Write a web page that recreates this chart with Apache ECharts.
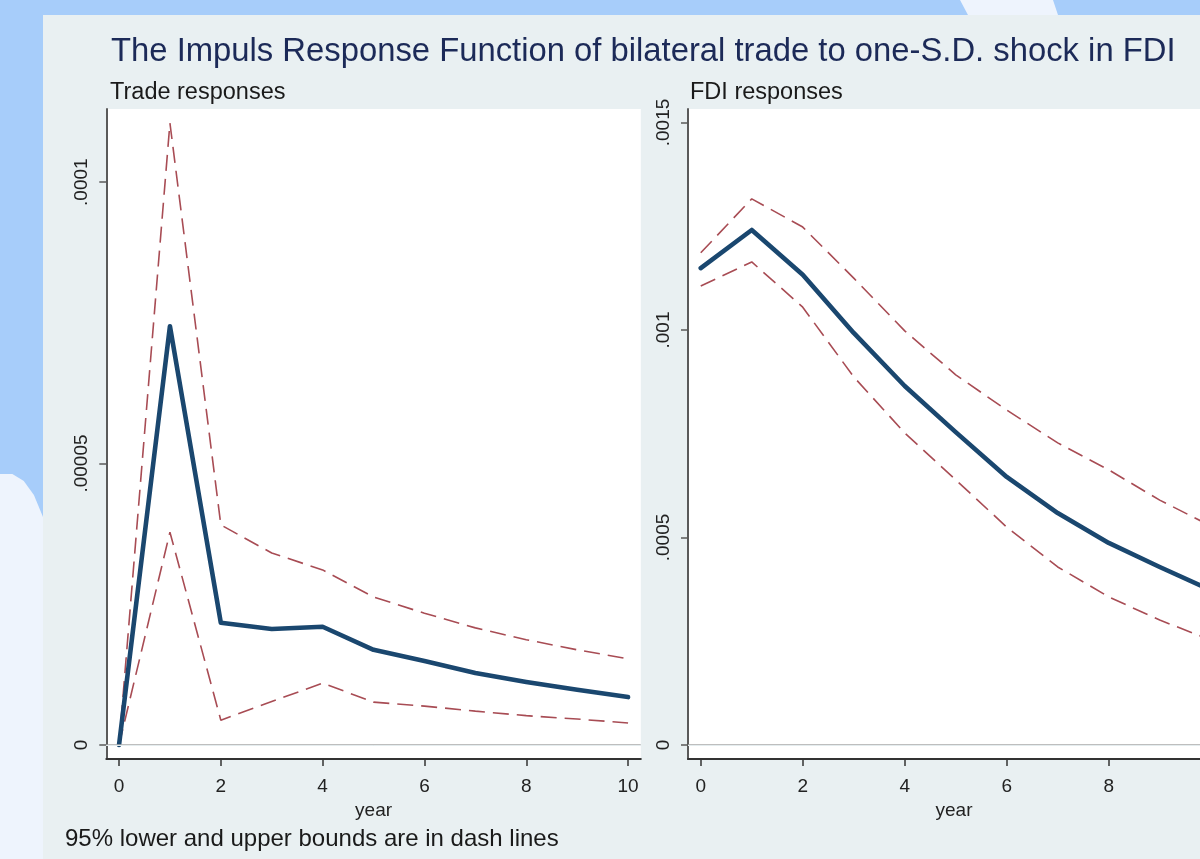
<!DOCTYPE html>
<html><head><meta charset="utf-8">
<script src="https://cdn.jsdelivr.net/npm/echarts@6/dist/echarts.min.js"></script>
<style>html,body{margin:0;padding:0;background:#a7cdfa;overflow:hidden;} #c{width:1200px;height:859px;}</style>
</head><body><div id="c"></div>
<script>
// ---- data ----
const years = [0, 1, 2, 3, 4, 5, 6, 7, 8, 9, 10];
const tradeIRF   = [0, 0.0000744, 0.0000217, 0.0000206, 0.0000210, 0.0000169, 0.0000149, 0.0000128, 0.0000112, 0.0000098, 0.0000085];
const tradeUpper = [0, 0.0001105, 0.0000391, 0.0000341, 0.0000311, 0.0000263, 0.0000234, 0.0000208, 0.0000187, 0.0000169, 0.0000153];
const tradeLower = [0, 0.0000378, 0.0000044, 0.0000077, 0.0000110, 0.0000076, 0.0000069, 0.0000060, 0.0000052, 0.0000046, 0.0000039];
const fdiIRF   = [0.001149, 0.001241, 0.001133, 0.000993, 0.000865, 0.000754, 0.000646, 0.000559, 0.000487, 0.000429, 0.000373];
const fdiUpper = [0.001186, 0.001316, 0.001248, 0.001125, 0.000998, 0.000892, 0.000807, 0.000728, 0.000663, 0.000590, 0.000528];
const fdiLower = [0.001106, 0.001164, 0.001055, 0.000887, 0.000752, 0.000639, 0.000525, 0.000429, 0.000357, 0.000301, 0.000253];
const xTicks = [0, 2, 4, 6, 8, 10];
const tradeTicks = [0, 0.00005, 0.0001];
const tradeTickLabels = ['0', '.00005', '.0001'];
const fdiTicks = [0, 0.0005, 0.001, 0.0015];
const fdiTickLabels = ['0', '.0005', '.001', '.0015'];

const mainTitle = 'The Impuls Response Function of bilateral trade to one-S.D. shock in FDI';
const panelTitles = ['Trade responses', 'FDI responses'];
const noteText = '95% lower and upper bounds are in dash lines';

// ---- styles ----
const FONT = 'Liberation Sans, Arial, sans-serif';
const NAVY = '#1a476f';
const MAROON = '#a84c54';
const pairs = arr => years.map((y, i) => [y, arr[i]]);
const lookup = (ticks, labels) => v => {
  for (let i = 0; i < ticks.length; i++) if (Math.abs(ticks[i] - v) < 1e-12) return labels[i];
  return '';
};

const chart = echarts.init(document.getElementById('c'), null, {renderer: 'canvas'});

function xAxisFor(i, max, namePad) {
  return {
    type: 'value', gridIndex: i, min: -0.25, max: max,
    axisLine: {show: true, onZero: false, lineStyle: {color: '#333', width: 2}},
    axisTick: {show: true, length: 7, customValues: xTicks, lineStyle: {color: '#333', width: 1.5}},
    axisLabel: {customValues: xTicks, margin: 18, fontSize: 19, color: '#222', fontFamily: FONT},
    splitLine: {show: false},
    name: 'year', nameLocation: 'middle', nameGap: 37,
    nameTextStyle: {fontSize: 19, color: '#222', fontFamily: FONT, padding: [0, 0, 0, namePad]}
  };
}
function yAxisFor(i, min, max, ticks, labels) {
  return {
    type: 'value', gridIndex: i, min: min, max: max,
    axisLine: {show: true, onZero: false, lineStyle: {color: '#5a5a5a', width: 2}},
    axisTick: {show: true, length: 7, customValues: ticks, lineStyle: {color: '#5a5a5a', width: 1.5}},
    axisLabel: {customValues: ticks, rotate: 90, margin: 15, fontSize: 19, color: '#222', fontFamily: FONT,
      formatter: lookup(ticks, labels)},
    splitLine: {show: false}
  };
}
function gridLines(i, ticks, base) {
  return {
    type: 'line', xAxisIndex: i, yAxisIndex: i, data: pairs(base), symbol: 'none',
    lineStyle: {opacity: 0}, silent: true, z: 1,
    markLine: {
      silent: true, symbol: ['none', 'none'], label: {show: false}, animation: false,
      data: ticks.map(v => ({yAxis: v, lineStyle: {color: v === 0 ? '#a8a8a8' : '#e4ecee', width: v === 0 ? 1.5 : 1, type: 'solid'}}))
    }
  };
}
function band(i, arr) {
  return {type: 'line', xAxisIndex: i, yAxisIndex: i, data: pairs(arr), symbol: 'none', silent: true, z: 3,
    lineStyle: {color: MAROON, width: 1.6, type: [16, 8]}};
}
function center(i, arr) {
  return {type: 'line', xAxisIndex: i, yAxisIndex: i, data: pairs(arr), symbol: 'none', silent: true, z: 4,
    lineStyle: {color: NAVY, width: 4.6, join: 'round', cap: 'round'}};
}

const option = {
  animation: false,
  backgroundColor: '#a7cdfa',
  graphic: [
    {type: 'polygon', z: -20, shape: {points: [[960, 0], [1053, 0], [1058, 15], [968, 15]]}, style: {fill: '#eef4fd'}},
    {type: 'polygon', z: -20, shape: {points: [[0, 474], [12.4, 474], [23.8, 481], [33.9, 495], [43, 517], [43, 859], [0, 859]]}, style: {fill: '#eef4fd'}},
    {type: 'rect', z: -10, shape: {x: 43, y: 15, width: 1157, height: 844}, style: {fill: '#e9f0f2'}}
  ],
  title: [
    {text: mainTitle, left: 111, top: 35, padding: 0,
      textStyle: {fontSize: 32.8, fontWeight: 'normal', color: '#1c2a58', fontFamily: FONT}},
    {text: panelTitles[0], left: 110, top: 81, padding: 0,
      textStyle: {fontSize: 23.5, fontWeight: 'normal', color: '#1a1a1a', fontFamily: FONT}},
    {text: panelTitles[1], left: 690, top: 81, padding: 0,
      textStyle: {fontSize: 23.5, fontWeight: 'normal', color: '#1a1a1a', fontFamily: FONT}},
    {text: noteText, left: 65, top: 827, padding: 0,
      textStyle: {fontSize: 24, fontWeight: 'normal', color: '#1a1a1a', fontFamily: FONT}}
  ],
  grid: [
    {left: 106.3, top: 109, width: 534.5, height: 650, show: true, backgroundColor: '#ffffff', borderWidth: 0},
    {left: 688, top: 109, width: 512, height: 650, show: true, backgroundColor: '#ffffff', borderWidth: 0}
  ],
  xAxis: [xAxisFor(0, 10.25, 0), xAxisFor(1, 9.79, 20)],
  yAxis: [
    yAxisFor(0, -0.0000025, 0.000113, tradeTicks, tradeTickLabels),
    yAxisFor(1, -0.0000337, 0.0015325, fdiTicks, fdiTickLabels)
  ],
  series: [
    gridLines(0, tradeTicks, tradeIRF),
    gridLines(1, fdiTicks, fdiIRF),
    band(0, tradeUpper), band(0, tradeLower), center(0, tradeIRF),
    band(1, fdiUpper), band(1, fdiLower), center(1, fdiIRF)
  ]
};
chart.setOption(option);
</script>
</body></html>
